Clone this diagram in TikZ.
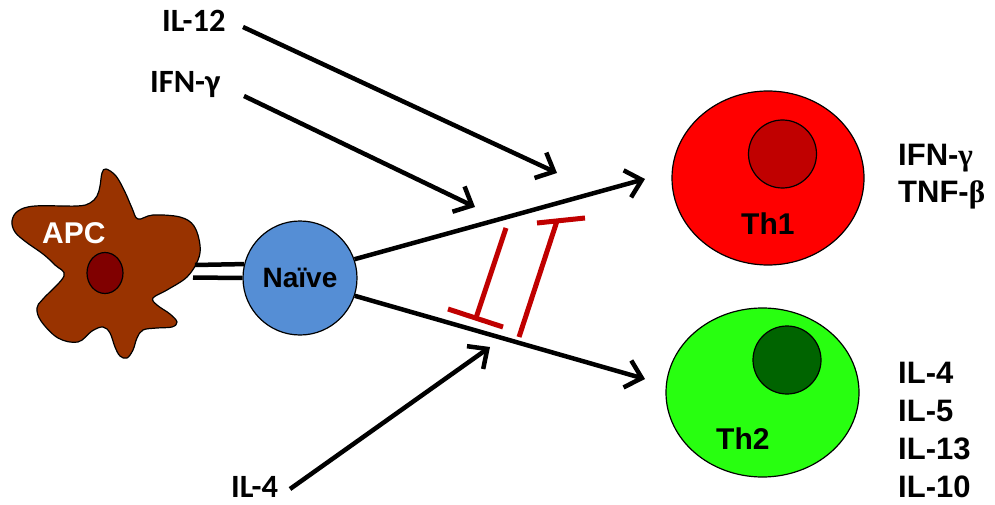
\documentclass[tikz,border=0pt]{standalone}
\usepackage{fontspec}
\setmainfont{Liberation Sans}
\newfontfamily\calfont{Carlito}
\newfontfamily\greekserif{Liberation Serif}
\usetikzlibrary{arrows.meta,shapes.geometric}
\definecolor{apcbrown}{RGB}{153,51,0}
\definecolor{apcnuc}{RGB}{128,0,0}
\definecolor{naiveblue}{RGB}{85,142,213}
\definecolor{thonered}{RGB}{255,0,0}
\definecolor{thonenuc}{RGB}{192,0,0}
\definecolor{thtwogreen}{RGB}{40,255,16}
\definecolor{thtwonuc}{RGB}{0,100,0}
\definecolor{inhred}{RGB}{192,0,0}
\begin{document}
\begin{tikzpicture}[x=1pt,y=-1pt,
  arr/.style={line width=4.5pt,-{Straight Barb[length=15pt,width=28pt]}},
  inh/.style={draw=inhred,line width=5pt},
  dbl/.style={line width=4.5pt},
  llab/.style={font=\calfont\bfseries\fontsize{32.5}{36}\selectfont,anchor=base west,inner sep=0pt},
  rlab/.style={font=\bfseries\fontsize{31}{34}\selectfont,anchor=base west,inner sep=0pt},
  clab/.style={font=\bfseries\fontsize{30}{34}\selectfont,anchor=base west,inner sep=0pt},
  cellout/.style={draw=black,line width=1.2pt}]
\useasboundingbox (0,0) rectangle (995,505);

% APC
\draw[cellout,fill=apcbrown] plot[smooth cycle,tension=0.6] coordinates {
 (106,169) (116,176) (125,192) (132,208) (138,219) (153,215) (180,217) (194,226)
 (200,245) (198,260) (187,277) (167,290) (153,298) (157,305) (170,314) (177,322)
 (172,327) (157,328) (143,330) (137,338) (133,350) (127,358) (120,356) (115,347)
 (110,333) (103,327) (92,331) (78,342) (58,338) (41,321) (37,308) (43,299)
 (64,276) (55,265) (43,254) (26,242) (15,232) (12,221) (18,211) (35,206)
 (77,206) (90,203) (97,196) (100,186) (102,173)};
\node[ellipse,cellout,fill=apcnuc,minimum width=36pt,minimum height=41pt,inner sep=0pt] (apcnucleus) at (105,273) {};
\node[clab,text=white] (apclab) at (42,243) {APC};

% Naive
\node[circle,cellout,fill=naiveblue,minimum size=114pt,inner sep=0pt,
      font=\bfseries\fontsize{28}{32}\selectfont] (naive) at (300,278) {Naïve};

% double connection
\coordinate (a1) at (195,265);
\coordinate (a2) at (193,277.5);
\draw[dbl] (a1) -- (naive.166.5);
\draw[dbl] (a2) -- (naive.180);

% Th1
\node[ellipse,cellout,fill=thonered,minimum width=192pt,minimum height=174pt,inner sep=0pt] (th1) at (768,178) {};
\node[circle,cellout,fill=thonenuc,minimum size=68pt,inner sep=0pt] (th1nuc) at (782.5,154) {};
\node[clab] (th1lab) at (741,234) {Th1};

% Th2
\node[ellipse,cellout,fill=thtwogreen,minimum width=193pt,minimum height=169pt,inner sep=0pt] (th2) at (762.5,392.5) {};
\node[circle,cellout,fill=thtwonuc,minimum size=68pt,inner sep=0pt] (th2nuc) at (787,360) {};
\node[clab] (th2lab) at (716,449) {Th2};

% main arrows
\coordinate (t1) at (645,179);
\coordinate (t2) at (645,379);
\draw[arr] (naive.19) -- (t1);
\draw[arr] (naive.-18) -- (t2);

% cytokine inputs
\node[llab] (il12) at (162,32) {IL-12};
\node[llab] (ifng) at (150,92.5) {IFN-γ};
\node[llab] (il4) at (231,497.5) {IL-4};
\coordinate (s12) at (243,27);
\coordinate (e12) at (557,173);
\coordinate (sg) at (244,96);
\coordinate (eg) at (475,207);
\coordinate (s4) at (290,489);
\coordinate (e4) at (490,347);
\draw[arr] (s12) -- (e12);
\draw[arr] (sg) -- (eg);
\draw[arr] (s4) -- (e4);

% inhibition bars
\coordinate (b1s) at (506,228);
\coordinate (b1e) at (476,318);
\coordinate (b1l) at (448,309);
\coordinate (b1r) at (503,327);
\coordinate (b2s) at (519,337);
\coordinate (b2e) at (557,221);
\coordinate (b2l) at (537,223);
\coordinate (b2r) at (585,218);
\draw[inh] (b1s) -- (b1e);
\draw[inh] (b1l) -- (b1r);
\draw[inh] (b2s) -- (b2e);
\draw[inh] (b2l) -- (b2r);

% output cytokines
\node[rlab] (o1) at (898,166) {IFN-{\greekserif γ}};
\node[rlab] (o2) at (898,203) {TNF-{\greekserif β}};
\node[rlab] (o3) at (898,383) {IL-4};
\node[rlab] (o4) at (898,421) {IL-5};
\node[rlab] (o5) at (898,459) {IL-13};
\node[rlab] (o6) at (898,497) {IL-10};
\end{tikzpicture}
\end{document}
